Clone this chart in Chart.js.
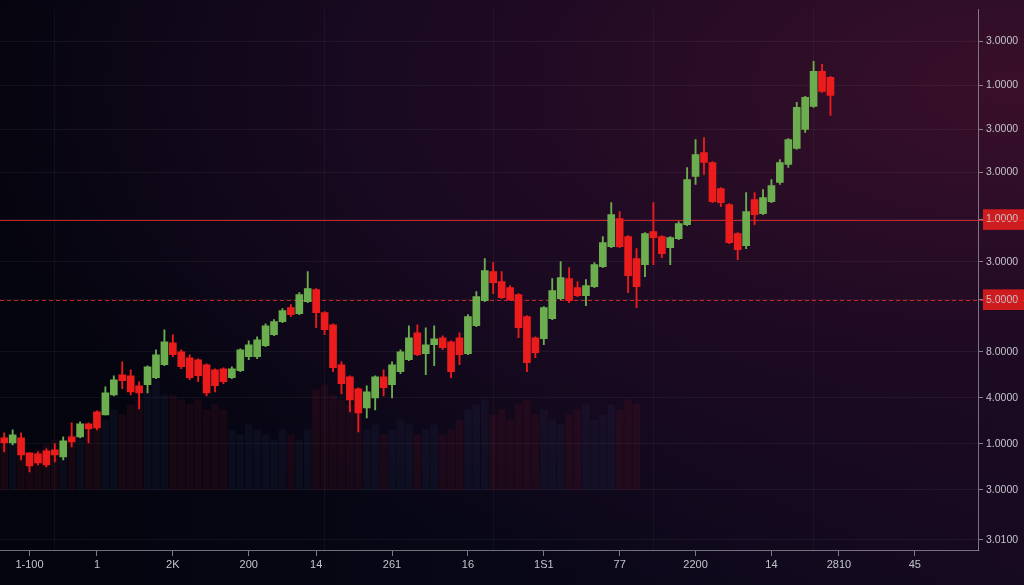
<!DOCTYPE html>
<html>
<head>
<meta charset="utf-8">
<script src="https://cdn.jsdelivr.net/npm/chart.js@4"></script>
<style>
  html, body { margin: 0; padding: 0; }
  body {
    width: 1024px; height: 585px; overflow: hidden;
    background: radial-gradient(ellipse at 100% 15%, #3a0f2a 0%, #1c0a22 40%, rgba(8,6,20,0) 75%),
                linear-gradient(90deg, #03040d 0%, #070716 45%, #150a20 100%);
  }
  #wrap { position: relative; width: 1024px; height: 585px; }
</style>
</head>
<body>
<div id="wrap"><canvas id="chart"></canvas></div>
<script>
// candles (price units)
var opens  = [112,107,112,97,96,99,100,93,113,113,126,138,135,155,175,174,164,165,172,185,207,198,192,190,185,180,181,172,179,193,193,204,215,228,242,236,248,260,237,225,185,173,161,142,152,173,165,178,190,217,196,205,212,208,212,196,224,249,278,268,262,255,233,212,211,231,251,271,262,254,263,283,303,331,313,291,285,318,313,302,311,325,373,397,387,361,345,316,304,350,336,348,367,385,401,420,443,478,472];
var highs  = [117,120,117,97,98,101,106,113,127,128,127,139,163,174,188,180,168,184,200,220,215,200,195,191,186,181,182,183,201,209,213,226,230,241,245,257,278,261,238,226,188,174,162,164,174,180,188,200,224,225,222,224,214,209,217,235,258,291,287,278,264,256,234,213,243,271,288,282,268,270,287,313,347,338,314,301,317,347,314,313,328,382,410,412,388,362,346,317,357,357,360,370,390,411,447,453,488,485,473];
var lows   = [98,105,90,78,85,83,88,90,103,112,107,120,135,154,161,155,141,157,171,184,193,181,170,168,154,158,166,171,178,190,191,203,214,227,233,235,247,222,215,178,156,138,118,132,140,154,152,176,189,194,175,184,200,172,185,195,223,248,256,251,249,212,178,192,205,230,250,247,253,244,262,282,302,302,257,242,273,285,292,285,310,324,365,375,347,343,306,290,301,325,335,347,365,382,400,417,442,457,434];
var closes = [107,115,95,84,87,85,95,109,108,126,121,122,157,170,169,158,157,183,195,208,195,183,172,174,157,164,168,181,200,205,210,224,228,239,235,255,261,237,220,182,166,150,137,158,173,162,185,198,212,195,205,211,202,178,195,233,253,279,267,252,250,222,187,197,242,259,272,249,254,264,285,307,335,303,274,263,316,312,296,312,326,370,395,387,348,347,307,300,338,335,352,364,387,410,442,452,478,458,454];
// background volume bars, height above the volume baseline
var volumes = [45,50,40,35,40,45,50,40,55,50,60,70,70,80,75,85,90,100,110,95,95,90,85,90,80,85,80,60,55,65,60,55,50,60,55,50,60,100,105,95,90,85,80,60,65,55,60,70,65,55,60,65,55,60,70,80,85,90,75,80,70,85,90,75,80,70,65,75,80,85,70,75,85,80,90,85];
var volumeBase = 60;

var slotCount = 116;
var xTickPos  = [3, 11, 20, 29, 37, 46, 55, 64, 73, 82, 91, 99, 108];
var xTickText = ['1-100', '1', '2K', '200', '14', '261', '16', '1S1', '77', '2200', '14', '2810', '45'];
var vGridPos  = [6, 38, 58, 77, 96];

var yTickValues = [508, 464, 420, 377, 330, 288, 250, 198, 152, 106, 60, 10];
var yTickLabels = ['3.0000', '1.0000', '3.0000', '3.0000', '1.0000', '3.0000', '5.0000', '8.0000', '4.0000', '1.0000', '3.0000', '3.0100'];
var markLevels = [330, 250];   // solid line, dashed line

var labels = [];
for (var i = 0; i < slotCount; i++) {
    var k = xTickPos.indexOf(i);
    labels.push(k >= 0 ? xTickText[k] : '');
}

var green = '#6cae4f', red = '#ec1c1c';
var bodies = [], wicks = [], vols = [], colors = [], volColors = [];
for (var i = 0; i < opens.length; i++) {
    bodies.push([opens[i], closes[i]]);
    wicks.push([lows[i], highs[i]]);
    var up = closes[i] >= opens[i];
    colors.push(up ? green : red);
    if (i < volumes.length) {
        vols.push([volumeBase, volumeBase + volumes[i]]);
        volColors.push(up ? 'rgba(45,55,95,0.16)' : 'rgba(110,20,35,0.18)');
    }
}

var levelLines = {
    id: 'levelLines',
    beforeDatasetsDraw: function (chart) {
        var ctx = chart.ctx, y = chart.scales.y, a = chart.chartArea;
        ctx.save();
        ctx.strokeStyle = 'rgba(230,40,40,0.85)';
        ctx.lineWidth = 1;
        markLevels.forEach(function (v, n) {
            var py = Math.round(y.getPixelForValue(v)) + 0.5;
            ctx.setLineDash(n === 1 ? [4, 3] : []);
            ctx.beginPath();
            ctx.moveTo(a.left, py);
            ctx.lineTo(a.right + 46, py);
            ctx.stroke();
        });
        ctx.restore();
    }
};

var ctx = document.getElementById('chart').getContext('2d');
new Chart(ctx, {
    type: 'bar',
    data: {
        labels: labels,
        datasets: [{
            data: bodies,
            backgroundColor: colors,
            barThickness: 7,
            grouped: false,
            order: 1
        }, {
            data: wicks,
            backgroundColor: colors,
            barThickness: 1.2,
            grouped: false,
            order: 2
        }, {
            data: vols,
            backgroundColor: volColors,
            barThickness: 7,
            grouped: false,
            order: 3
        }]
    },
    options: {
        responsive: true,
        maintainAspectRatio: false,
        animation: false,
        layout: { padding: 0 },
        plugins: {
            legend: { display: false },
            tooltip: { enabled: false }
        },
        scales: {
            x: {
                offset: true,
                afterFit: function (s) { s.height = 35; },
                border: { color: 'rgba(200,200,210,0.55)' },
                grid: {
                    offset: false,
                    color: function (c) {
                        return vGridPos.indexOf(c.index) >= 0 ? 'rgba(255,255,255,0.04)' : 'rgba(0,0,0,0)';
                    },
                    tickColor: function (c) {
                        return labels[c.index] ? 'rgba(200,200,210,0.6)' : 'rgba(0,0,0,0)';
                    },
                    tickLength: 6
                },
                ticks: {
                    autoSkip: false,
                    maxRotation: 0,
                    color: '#c4c4cc',
                    font: { family: 'Liberation Sans', size: 11 },
                    padding: 2
                }
            },
            y: {
                position: 'right',
                min: 0,
                max: 540,
                afterFit: function (s) { s.width = 46; },
                afterBuildTicks: function (s) {
                    s.ticks = yTickValues.map(function (v) { return { value: v }; });
                },
                border: { color: 'rgba(200,200,210,0.55)' },
                grid: {
                    color: 'rgba(255,255,255,0.05)',
                    tickColor: 'rgba(200,200,210,0.6)',
                    tickLength: 5
                },
                ticks: {
                    color: '#c4c4cc',
                    font: { family: 'Liberation Sans', size: 10.5 },
                    padding: 3,
                    callback: function (v) {
                        var k = yTickValues.indexOf(v);
                        return k >= 0 ? yTickLabels[k] : '';
                    },
                    showLabelBackdrop: function (c) {
                        return markLevels.indexOf(c.tick.value) >= 0;
                    },
                    backdropColor: 'rgba(225,30,30,0.9)',
                    backdropPadding: { top: 4, bottom: 4, left: 3, right: 6 }
                }
            }
        }
    },
    plugins: [levelLines]
});
</script>
</body>
</html>
